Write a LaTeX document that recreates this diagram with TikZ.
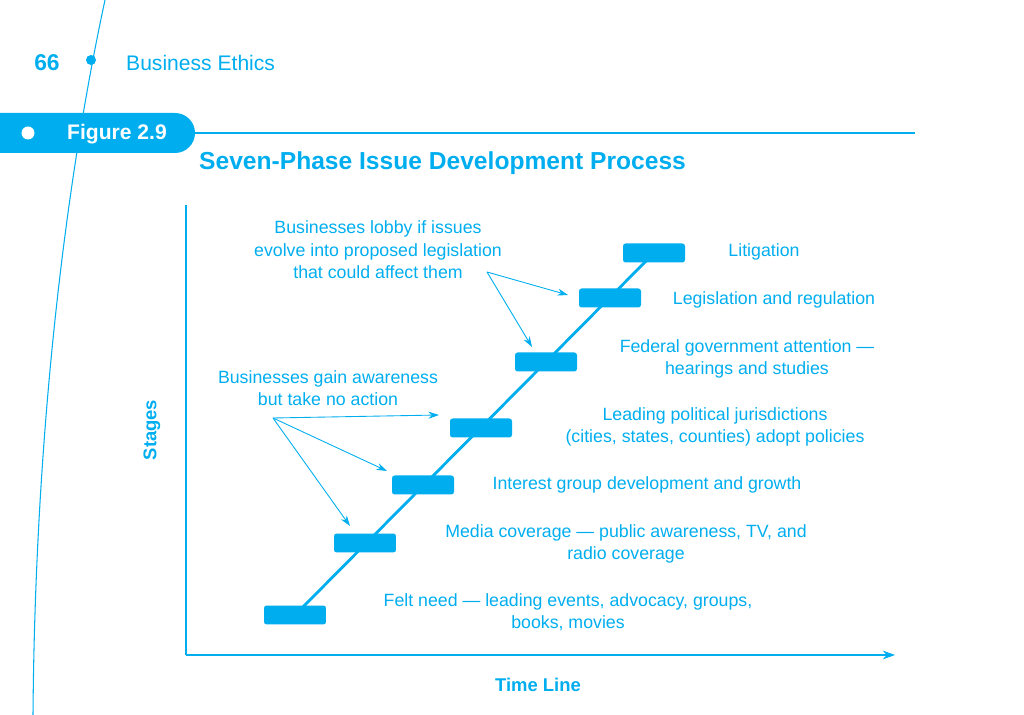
\documentclass[tikz,border=0pt]{standalone}
\usepackage{fontspec}
\setmainfont{Liberation Sans}
\usetikzlibrary{arrows.meta}
\definecolor{cy}{HTML}{00AEEF}
\begin{document}
\begin{tikzpicture}[x=0.02cm,y=-0.02cm,
  bar/.style={fill=cy,draw=none,rounded corners=1.5pt,minimum width=1.24cm,minimum height=0.38cm,inner sep=0},
  lab/.style={text=cy,align=center,font=\fontsize{10.1}{12.8}\selectfont},
  arr/.style={draw=cy,line width=0.5pt,-{Stealth[length=6pt,width=4pt]}}]
\useasboundingbox (0,0) rectangle (1024,715);
\draw[cy,line width=0.6pt] (105,0) .. controls (62,200) and (35,450) .. (33,715);
\node[text=cy,font=\bfseries\fontsize{13}{15}\selectfont] (pg) at (47,63) {66};
\fill[cy] (91,60) circle (5);
\node[text=cy,anchor=west,font=\fontsize{12}{15}\selectfont] (be) at (120,63) {Business Ethics};
\fill[cy,rounded corners=0.4cm] (-20,113) rectangle (195,153);
\fill[white] (28,133) circle (6.5);
\node[text=white,font=\bfseries\fontsize{12}{15}\selectfont] (fig) at (117,134) {Figure 2.9};
\draw[cy,line width=0.6pt] (195,133) -- (915,133);
\node[text=cy,anchor=west,font=\bfseries\fontsize{14}{18}\selectfont] (title) at (193,163) {Seven-Phase Issue Development Process};
\draw[cy,line width=0.6pt] (186,205) -- (186,655);
\draw[cy,line width=0.6pt,-{Stealth[length=7pt,width=5pt]}] (186,655) -- (895,655);
\node[text=cy,rotate=90,font=\bfseries\fontsize{10.5}{13}\selectfont] (st) at (152,430) {Stages};
\node[text=cy,font=\bfseries\fontsize{10.5}{13}\selectfont] (tl) at (538,685) {Time Line};
\draw[cy,line width=1.6pt] (295,615) -- (654,253);
\node[bar] (b1) at (295,615) {};
\node[bar] (b2) at (365,543) {};
\node[bar] (b3) at (423,485) {};
\node[bar] (b4) at (481,428) {};
\node[bar] (b5) at (546,362) {};
\node[bar] (b6) at (610,298) {};
\node[bar] (b7) at (654,253) {};
\node[lab] (l1) at (568,612) {Felt need — leading events, advocacy, groups,\\books, movies};
\node[lab] (l2) at (626,544) {Media coverage — public awareness, TV, and\\radio coverage};
\node[lab] (l3) at (647,485) {Interest group development and growth};
\node[lab] (l4) at (715,427) {Leading political jurisdictions\\(cities, states, counties) adopt policies};
\node[lab] (l5) at (747,359) {Federal government attention —\\hearings and studies};
\node[lab] (l6) at (774,300) {Legislation and regulation};
\node[lab] (l7) at (764,252) {Litigation};
\node[lab] (a1) at (328,388) {Businesses gain awareness\\but take no action};
\node[lab] (a2) at (378,250) {Businesses lobby if issues\\evolve into proposed legislation\\that could affect them};
\coordinate (o1) at (273,418);
\coordinate (o2) at (487,272);
\draw[arr] (o1) -- (439,415);
\draw[arr] (o1) -- (387,471);
\draw[arr] (o1) -- (350,526);
\draw[arr] (o2) -- (568,295);
\draw[arr] (o2) -- (532,347);
\end{tikzpicture}
\end{document}
